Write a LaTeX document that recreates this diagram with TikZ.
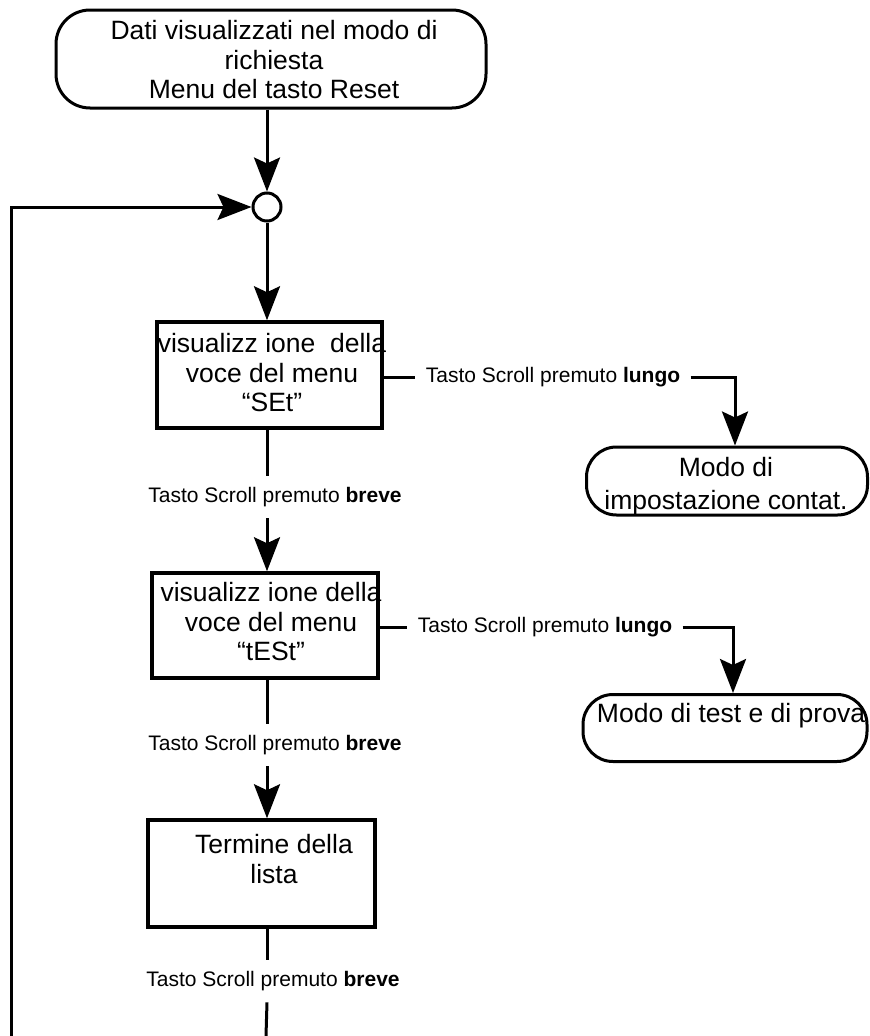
\documentclass[tikz,border=0pt]{standalone}
\usepackage{fontspec}
\setmainfont{Liberation Sans}
\usetikzlibrary{arrows.meta}
\begin{document}
\begin{tikzpicture}[x=1pt,y=-1pt,line width=3pt,
  arr/.style={-{Stealth[length=34pt,width=26pt,inset=6pt]}},
  stepbox/.style={draw,line width=3.5pt,shape=rectangle,inner sep=0pt},
  term/.style={draw,line width=3pt,shape=rectangle,inner sep=0pt,rounded corners=34pt},
  maintext/.style={align=center,inner sep=0pt,font=\fontsize{26.5}{29.5}\selectfont},
  lab/.style={inner xsep=9pt,inner ysep=10pt,font=\fontsize{21}{24}\selectfont}]
\useasboundingbox (0,0) rectangle (870,1036);
% shapes
\node[term,minimum width=430pt,minimum height=98pt] (top) at (271,59) {};
\node[maintext] (toptext) at (274,60) {Dati visualizzati nel modo di\\richiesta\\Menu del tasto Reset};
\node[draw,circle,minimum size=28pt,inner sep=0pt,line width=3pt] (circ) at (267,207) {};
\node[stepbox,minimum width=225pt,minimum height=106pt] (box1) at (269.5,375) {};
\node[maintext] (box1text) at (272,373) {visualizz ione\ \ della\\voce del menu\\“SEt”};
\node[stepbox,minimum width=226pt,minimum height=105pt] (box2) at (265,625.5) {};
\node[maintext] (box2text) at (271,622) {visualizz ione della\\voce del menu\\“tESt”};
\node[stepbox,minimum width=227pt,minimum height=107pt] (box3) at (261.5,873.5) {};
\node[maintext] (box3text) at (274,859) {Termine della\\lista};
\node[term,minimum width=281pt,minimum height=68pt,rounded corners=30pt] (modo1) at (727,481) {};
\node[maintext,font=\fontsize{26.5}{33}\selectfont] (modo1text) at (726,486) {Modo di\\impostazione contat.};
\node[term,minimum width=284pt,minimum height=67pt,rounded corners=30pt] (modo2) at (725,728) {};
\node[maintext] (modo2text) at (731,716) {Modo di test e di prova};
% labels
\node[lab] (lungo1) at (553,377) {Tasto Scroll premuto \textbf{lungo}};
\node[lab] (lungo2) at (545,627) {Tasto Scroll premuto \textbf{lungo}};
\node[lab] (breve1) at (275,497) {Tasto Scroll premuto \textbf{breve}};
\node[lab] (breve2) at (275,745) {Tasto Scroll premuto \textbf{breve}};
\node[lab] (breve3) at (273,981) {Tasto Scroll premuto \textbf{breve}};
\coordinate (bl) at (11,1036);
\coordinate (be) at (266,1036);
% connectors
\draw[arr] (circ.north |- top.south) -- (circ.north);
\draw[arr] (circ.south) -- (circ.south |- box1.north);
\draw[arr] (bl) |- (circ.west);
\draw (circ |- box1.south) -- (circ |- breve1.north);
\draw[arr] (circ |- breve1.south) -- (circ |- box2.north);
\draw (circ |- box2.south) -- (circ |- breve2.north);
\draw[arr] (circ |- breve2.south) -- (circ |- box3.north);
\draw (circ |- box3.south) -- (circ |- breve3.north);
\draw (circ |- breve3.south) -- (be);
\draw (box1.east |- lungo1) -- (lungo1.west);
\draw[arr] (lungo1.east) -| ([xshift=8pt]modo1.north);
\draw (box2.east |- lungo2) -- (lungo2.west);
\draw[arr] (lungo2.east) -| ([xshift=8pt]modo2.north);
\end{tikzpicture}
\end{document}
